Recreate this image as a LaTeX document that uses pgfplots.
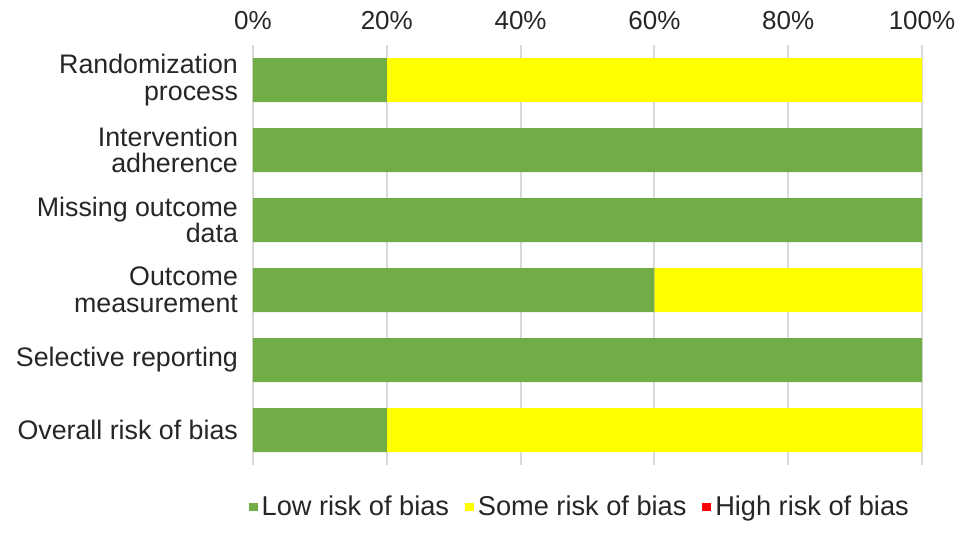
\documentclass[border=0pt]{standalone}
\usepackage{pgfplots}
\pgfplotsset{compat=1.18}
\usepackage{fontspec}
\setmainfont{Liberation Sans}
\definecolor{lowc}{HTML}{70AD47}
\definecolor{somec}{HTML}{FFFF00}
\definecolor{highc}{HTML}{FF0000}
\definecolor{gridc}{HTML}{D9D9D9}
\definecolor{txt}{HTML}{262626}
\begin{document}
\begin{tikzpicture}
\begin{axis}[
  at={(0,0)}, anchor=south west,
  scale only axis, width=334.5pt, height=210pt,
  xbar stacked, bar width=22pt,
  xmin=0, xmax=100, ymin=-0.5, ymax=5.5, y dir=reverse,
  xtick={0,20,40,60,80,100},
  xticklabels={0\%,20\%,40\%,60\%,80\%,100\%},
  xticklabel pos=top,
  ytick={0,1,2,3,4,5},
  yticklabels={{Randomization\\process},{Intervention\\adherence},{Missing outcome\\data},{Outcome\\measurement},{Selective reporting},{Overall risk of bias}},
  yticklabel style={align=right, font=\fontsize{13.4}{13.4}\selectfont, text=txt, xshift=-4pt},
  xticklabel style={font=\fontsize{13}{13}\selectfont, text=txt, yshift=4pt},
  major tick length=0pt,
  axis line style={draw=none},
  xmajorgrids, grid style={gridc, line width=1pt},
  legend style={draw=none, at={(0.49,-0.1)}, anchor=center, font=\fontsize{13.6}{13.6}\selectfont, text=txt,
    legend columns=3, /tikz/every even column/.append style={column sep=6pt}, inner sep=0pt},
  legend image code/.code={\fill[#1] (0pt,-2.2pt) rectangle (4.4pt,2.2pt);},
]
\addplot[fill=lowc, draw=none] coordinates {(20,0) (100,1) (100,2) (60,3) (100,4) (20,5)};
\addplot[fill=somec, draw=none] coordinates {(80,0) (0,1) (0,2) (40,3) (0,4) (80,5)};
\addplot[fill=highc, draw=none] coordinates {(0,0) (0,1) (0,2) (0,3) (0,4) (0,5)};
\legend{Low risk of bias, Some risk of bias, High risk of bias}
\end{axis}
\pgfresetboundingbox
\useasboundingbox (-126.5pt,-34.5pt) rectangle (358pt,232.5pt);
\end{tikzpicture}
\end{document}
